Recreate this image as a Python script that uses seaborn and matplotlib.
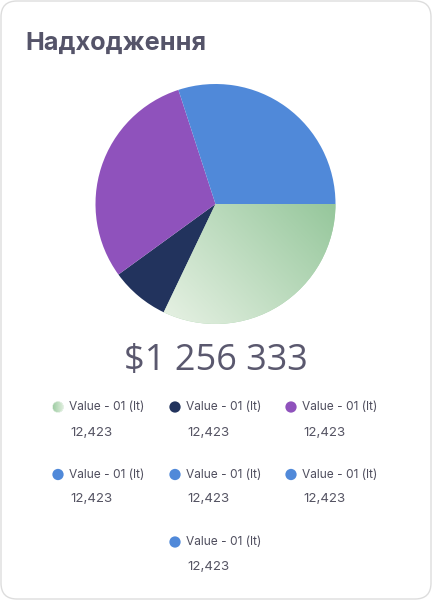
import numpy as np
import pandas as pd
import matplotlib
matplotlib.use("Agg")
import matplotlib.pyplot as plt
import seaborn as sns
from matplotlib.patches import FancyBboxPatch, Circle
from matplotlib.colors import LinearSegmentedColormap

# ---- data ----
title = "Надходження"
total_label = "$1 256 333"
legend_labels = ["Value - 01 (lt)"] * 7
legend_values = ["12,423"] * 7
pie_shares = [32.1, 7.9, 30.0, 30.0, 0.0, 0.0, 0.0]
slice_colors = ["#a8d2ac", "#22335d", "#8f52bc", "#5089d9", "#5089d9", "#5089d9", "#5089d9"]

sns.set_theme(style="white")
plt.rcParams['font.family'] = ['Inter', 'DejaVu Sans']

W, H = 432, 600
fig = plt.figure(figsize=(W / 100, H / 100), dpi=100)
ax = fig.add_axes([0, 0, 1, 1])
ax.set_xlim(0, W)
ax.set_ylim(0, H)
ax.set_aspect('equal')
ax.axis('off')

def Y(py):
    return H - py

# card
card = FancyBboxPatch((1, 1), W - 2, H - 2, boxstyle="round,pad=0,rounding_size=16",
                      facecolor="white", edgecolor="#dddddd", linewidth=1.0, zorder=0)
ax.add_patch(card)

ax.text(25, Y(43.5), title, fontsize=18.2, fontweight='bold', color="#555469",
        ha='left', va='center', family=['Inter', 'DejaVu Sans'])

# pie
cx, cy, r = 215.5, Y(204), 120
wedges, _ = ax.pie(pie_shares, colors=slice_colors, startangle=0, counterclock=False,
                   center=(cx, cy), radius=r, frame=True,
                   wedgeprops=dict(linewidth=0, antialiased=True))
ax.set_xlim(0, W)
ax.set_ylim(0, H)
ax.axis('off')

green_cmap = LinearSegmentedColormap.from_list("g", ["#e8f2e5", "#94c69a"])
x0, x1 = cx - 55, cx + r
y0, y1 = cy - r, cy + 5
gx, gy = np.meshgrid(np.linspace(0, 1, 200), np.linspace(0, 1, 200))
grad = (gx * 0.6 + gy * 0.4)
im = ax.imshow(grad, cmap=green_cmap, extent=(x0, x1, y0, y1), origin='lower',
               interpolation='bilinear', zorder=wedges[0].get_zorder() + 0.1)
im.set_clip_path(wedges[0])

ax.text(216, Y(361), total_label, fontsize=26, color="#5a586e", ha='center', va='center',
        family=['Open Sans', 'DejaVu Sans'])

# legend grid
col_x = [58, 175, 291]
rows = [(407, 433.5), (474.5, 499.5), (542, 566.5)]
positions = []
for i in range(7):
    if i < 6:
        c, rr = i % 3, i // 3
    else:
        c, rr = 1, 2
    positions.append((col_x[c], rows[rr][0], rows[rr][1]))

dots = pd.DataFrame({
    "x": [p[0] for p in positions],
    "y": [Y(p[1]) for p in positions],
    "label": [f"{k}" for k in range(7)],
})
sns.scatterplot(data=dots, x="x", y="y", hue="label", palette=slice_colors, s=66,
                linewidth=0, legend=False, ax=ax, zorder=5)

# gradient dot for the first (green) item
gdx, gdy = positions[0][0], Y(positions[0][1])
circ = Circle((gdx, gdy), 5.3, transform=ax.transData, facecolor='none', edgecolor='none')
ax.add_patch(circ)
ax.add_patch(Circle((gdx, gdy), 5.6, facecolor='white', edgecolor='none', zorder=6))
dot_cmap = LinearSegmentedColormap.from_list("gd", ["#9fcda4", "#e3f0e0"])
dot_im = ax.imshow(gx, cmap=dot_cmap, extent=(gdx - 5.3, gdx + 5.3, gdy - 5.3, gdy + 5.3),
                   origin='lower', interpolation='bilinear', zorder=7)
dot_im.set_clip_path(circ)

for (px, py1, py2), lab, val in zip(positions, legend_labels, legend_values):
    ax.text(px + 11, Y(py1), lab, fontsize=8.6, color="#4f4e5e", ha='left', va='center')
    ax.text(px + 12, Y(py2), val, fontsize=9.6, color="#555463", ha='left', va='center')

ax.set_xlim(0, W)
ax.set_ylim(0, H)
ax.set_xlabel("")
ax.set_ylabel("")
fig.savefig("out.png", dpi=100, facecolor="white")
